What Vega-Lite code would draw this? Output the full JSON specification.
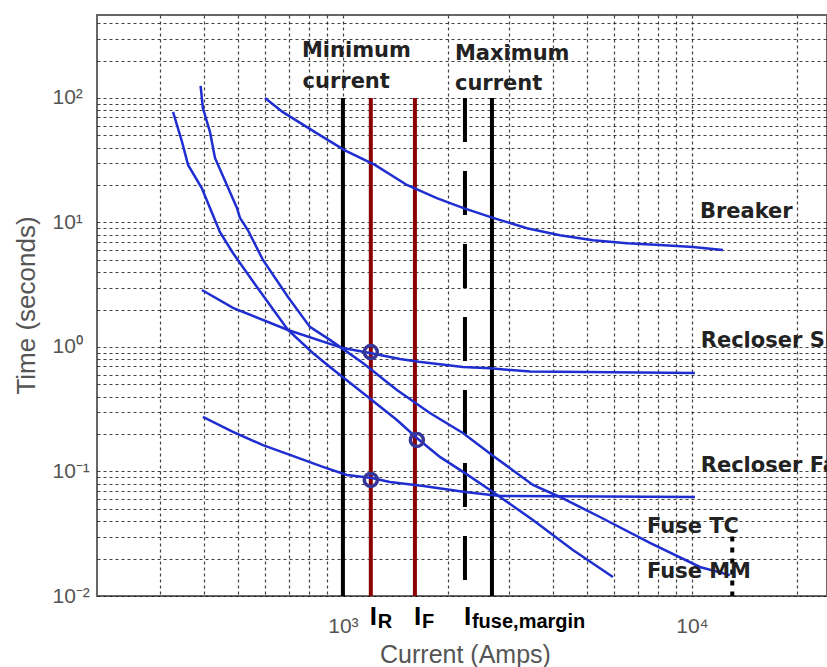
{
  "$schema": "https://vega.github.io/schema/vega-lite/v6.json",
  "width": 730,
  "height": 581,
  "autosize": {"type": "none"},
  "padding": {"left": 97, "top": 15, "right": 0, "bottom": 71},
  "background": "white",
  "config": {
    "view": {"stroke": "#666666", "strokeWidth": 2},
    "font": "Liberation Sans"
  },
  "datasets": {
    "curves": [
      {"curve": "Breaker", "current": 598, "time": 100},
      {"curve": "Breaker", "current": 673, "time": 77},
      {"curve": "Breaker", "current": 843, "time": 52},
      {"curve": "Breaker", "current": 1013, "time": 38},
      {"curve": "Breaker", "current": 1235, "time": 29},
      {"curve": "Breaker", "current": 1525, "time": 20},
      {"curve": "Breaker", "current": 1858, "time": 15.7},
      {"curve": "Breaker", "current": 2206, "time": 13.1},
      {"curve": "Breaker", "current": 2691, "time": 10.9},
      {"curve": "Breaker", "current": 3368, "time": 9.0},
      {"curve": "Breaker", "current": 4185, "time": 7.9},
      {"curve": "Breaker", "current": 5205, "time": 7.2},
      {"curve": "Breaker", "current": 6510, "time": 6.8},
      {"curve": "Breaker", "current": 8100, "time": 6.6},
      {"curve": "Breaker", "current": 10060, "time": 6.35},
      {"curve": "Breaker", "current": 12270, "time": 6.0},
      {"curve": "Fuse MM", "current": 326, "time": 77.2},
      {"curve": "Fuse MM", "current": 346, "time": 44.3},
      {"curve": "Fuse MM", "current": 360, "time": 29.0},
      {"curve": "Fuse MM", "current": 394, "time": 18.9},
      {"curve": "Fuse MM", "current": 424, "time": 11.5},
      {"curve": "Fuse MM", "current": 444, "time": 8.39},
      {"curve": "Fuse MM", "current": 484, "time": 5.69},
      {"curve": "Fuse MM", "current": 567, "time": 3.03},
      {"curve": "Fuse MM", "current": 696, "time": 1.37},
      {"curve": "Fuse MM", "current": 820, "time": 0.895},
      {"curve": "Fuse MM", "current": 918, "time": 0.691},
      {"curve": "Fuse MM", "current": 1141, "time": 0.427},
      {"curve": "Fuse MM", "current": 1428, "time": 0.259},
      {"curve": "Fuse MM", "current": 1629, "time": 0.186},
      {"curve": "Fuse MM", "current": 1896, "time": 0.131},
      {"curve": "Fuse MM", "current": 2237, "time": 0.097},
      {"curve": "Fuse MM", "current": 2691, "time": 0.0684},
      {"curve": "Fuse MM", "current": 3503, "time": 0.0408},
      {"curve": "Fuse MM", "current": 4560, "time": 0.0234},
      {"curve": "Fuse MM", "current": 5938, "time": 0.0142},
      {"curve": "Fuse TC", "current": 391, "time": 125},
      {"curve": "Fuse TC", "current": 397, "time": 83},
      {"curve": "Fuse TC", "current": 416, "time": 53.3},
      {"curve": "Fuse TC", "current": 430, "time": 33.0},
      {"curve": "Fuse TC", "current": 465, "time": 20.0},
      {"curve": "Fuse TC", "current": 497, "time": 13.1},
      {"curve": "Fuse TC", "current": 507, "time": 10.9},
      {"curve": "Fuse TC", "current": 534, "time": 8.7},
      {"curve": "Fuse TC", "current": 590, "time": 5.0},
      {"curve": "Fuse TC", "current": 696, "time": 2.52},
      {"curve": "Fuse TC", "current": 804, "time": 1.45},
      {"curve": "Fuse TC", "current": 918, "time": 1.14},
      {"curve": "Fuse TC", "current": 1141, "time": 0.744},
      {"curve": "Fuse TC", "current": 1428, "time": 0.451},
      {"curve": "Fuse TC", "current": 1775, "time": 0.295},
      {"curve": "Fuse TC", "current": 2207, "time": 0.204},
      {"curve": "Fuse TC", "current": 2720, "time": 0.131},
      {"curve": "Fuse TC", "current": 3503, "time": 0.078},
      {"curve": "Fuse TC", "current": 4185, "time": 0.0624},
      {"curve": "Fuse TC", "current": 5451, "time": 0.0431},
      {"curve": "Fuse TC", "current": 7580, "time": 0.0267},
      {"curve": "Fuse TC", "current": 10540, "time": 0.0171},
      {"curve": "Fuse TC", "current": 12850, "time": 0.0147},
      {"curve": "Recloser Slow", "current": 394.5, "time": 2.87},
      {"curve": "Recloser Slow", "current": 484, "time": 2.06},
      {"curve": "Recloser Slow", "current": 696, "time": 1.37},
      {"curve": "Recloser Slow", "current": 936, "time": 1.04},
      {"curve": "Recloser Slow", "current": 1000, "time": 0.98},
      {"curve": "Recloser Slow", "current": 1195, "time": 0.895},
      {"curve": "Recloser Slow", "current": 1457, "time": 0.8},
      {"curve": "Recloser Slow", "current": 1650, "time": 0.76},
      {"curve": "Recloser Slow", "current": 2207, "time": 0.69},
      {"curve": "Recloser Slow", "current": 2638, "time": 0.675},
      {"curve": "Recloser Slow", "current": 3435, "time": 0.635},
      {"curve": "Recloser Slow", "current": 10200, "time": 0.618},
      {"curve": "Recloser Fast", "current": 397, "time": 0.274},
      {"curve": "Recloser Fast", "current": 484, "time": 0.208},
      {"curve": "Recloser Fast", "current": 590, "time": 0.163},
      {"curve": "Recloser Fast", "current": 705, "time": 0.136},
      {"curve": "Recloser Fast", "current": 876, "time": 0.109},
      {"curve": "Recloser Fast", "current": 1027, "time": 0.0937},
      {"curve": "Recloser Fast", "current": 1211, "time": 0.0886},
      {"curve": "Recloser Fast", "current": 1363, "time": 0.0824},
      {"curve": "Recloser Fast", "current": 1700, "time": 0.0765},
      {"curve": "Recloser Fast", "current": 2240, "time": 0.0684},
      {"curve": "Recloser Fast", "current": 2818, "time": 0.0636},
      {"curve": "Recloser Fast", "current": 10200, "time": 0.0624}
    ],
    "vlines": [
      {"kind": "solid", "current": 1000, "time": 100, "time_end": 0.01},
      {"kind": "solid", "current": 2673, "time": 100, "time_end": 0.01},
      {"kind": "red", "current": 1202, "time": 100, "time_end": 0.01},
      {"kind": "red", "current": 1608, "time": 100, "time_end": 0.01},
      {"kind": "dashed", "current": 2237, "time": 100, "time_end": 0.01},
      {"kind": "dotted", "current": 13050, "time": 0.03, "time_end": 0.01}
    ],
    "circles": [
      {"current": 1202, "time": 0.91},
      {"current": 1629, "time": 0.179},
      {"current": 1202, "time": 0.0855}
    ],
    "labels": [
      {"label": "Minimum", "current": 763, "time": 213},
      {"label": "current", "current": 766, "time": 120.3},
      {"label": "Maximum", "current": 2094, "time": 202},
      {"label": "current", "current": 2094, "time": 115.9},
      {"label": "Breaker", "current": 10540, "time": 10.87},
      {"label": "Recloser Slow", "current": 10600, "time": 1.0},
      {"label": "Recloser Fast", "current": 10600, "time": 0.0988},
      {"label": "Fuse TC", "current": 7430, "time": 0.0321},
      {"label": "Fuse MM", "current": 7430, "time": 0.01396}
    ],
    "marks": [
      {"main": "I", "sub": "R", "current": 1202, "time": 0.01},
      {"main": "I", "sub": "F", "current": 1608, "time": 0.01},
      {"main": "I", "sub": "fuse,margin", "current": 2237, "time": 0.01}
    ]
  },
  "encoding": {
    "x": {
      "field": "current",
      "type": "quantitative",
      "scale": {"type": "log", "domain": [197.4, 24380], "nice": false, "zero": false},
      "axis": {
        "values": [300, 400, 500, 600, 700, 800, 900, 1000, 2000, 3000, 4000, 5000, 6000, 7000, 8000, 9000, 10000, 20000],
        "labelExpr": "datum.value == 1000 ? '10³' : datum.value == 10000 ? '10⁴' : ''",
        "grid": true,
        "gridColor": "#111111",
        "gridDash": [3, 3],
        "gridWidth": 1.2,
        "gridOpacity": 0.8,
        "ticks": false,
        "tickSize": 0,
        "domain": false,
        "labelOverlap": false,
        "labelFontSize": 21,
        "labelColor": "#555555",
        "labelBaseline": "alphabetic",
        "labelPadding": 36,
        "title": "Current (Amps)",
        "titleFontSize": 25,
        "titleFontWeight": "normal",
        "titleColor": "#555555",
        "titleX": 368,
        "titleY": 66,
        "titleBaseline": "alphabetic"
      }
    },
    "y": {
      "field": "time",
      "type": "quantitative",
      "scale": {"type": "log", "domain": [0.01, 464], "nice": false, "zero": false},
      "axis": {
        "values": [0.01, 0.02, 0.03, 0.04, 0.05, 0.06, 0.07, 0.08, 0.09, 0.1, 0.2, 0.3, 0.4, 0.5, 0.6, 0.7, 0.8, 0.9, 1, 2, 3, 4, 5, 6, 7, 8, 9, 10, 20, 30, 40, 50, 60, 70, 80, 90, 100, 200, 300, 400],
        "labelExpr": "datum.value == 100 ? '10²' : datum.value == 10 ? '10¹' : datum.value == 1 ? '10⁰' : datum.value == 0.1 ? '10⁻¹' : datum.value == 0.01 ? '10⁻²' : ''",
        "grid": true,
        "gridColor": "#111111",
        "gridDash": [3, 3],
        "gridWidth": 1.2,
        "gridOpacity": 0.8,
        "ticks": false,
        "tickSize": 0,
        "domain": false,
        "labelOverlap": false,
        "labelFontSize": 21,
        "labelColor": "#555555",
        "labelAlign": "left",
        "labelBaseline": "middle",
        "labelPadding": 45,
        "title": "Time (seconds)",
        "titleFontSize": 26,
        "titleFontWeight": "normal",
        "titleColor": "#555555",
        "titleX": -71,
        "titleY": 290,
        "titleAngle": -90,
        "titleBaseline": "middle"
      }
    }
  },
  "layer": [
    {
      "data": {"name": "vlines"},
      "transform": [{"filter": "datum.kind == 'solid'"}],
      "mark": {"type": "rule", "color": "#000000", "strokeWidth": 4},
      "encoding": {"y2": {"field": "time_end"}}
    },
    {
      "data": {"name": "vlines"},
      "transform": [{"filter": "datum.kind == 'red'"}],
      "mark": {"type": "rule", "color": "#8b0000", "strokeWidth": 4},
      "encoding": {"y2": {"field": "time_end"}}
    },
    {
      "data": {"name": "vlines"},
      "transform": [{"filter": "datum.kind == 'dashed'"}],
      "mark": {"type": "rule", "color": "#000000", "strokeWidth": 4, "strokeDash": [44, 29]},
      "encoding": {"y2": {"field": "time_end"}}
    },
    {
      "data": {"name": "vlines"},
      "transform": [{"filter": "datum.kind == 'dotted'"}],
      "mark": {"type": "rule", "color": "#000000", "strokeWidth": 4, "strokeDash": [5, 6]},
      "encoding": {"y2": {"field": "time_end"}}
    },
    {
      "data": {"name": "curves"},
      "mark": {"type": "line", "color": "#1f2ed0", "strokeWidth": 2.5},
      "encoding": {"detail": {"field": "curve", "type": "nominal"}}
    },
    {
      "data": {"name": "circles"},
      "mark": {"type": "point", "filled": false, "color": "#35359a", "size": 170, "strokeWidth": 3.5, "opacity": 1}
    },
    {
      "data": {"name": "labels"},
      "mark": {"type": "text", "font": "DejaVu Sans", "fontWeight": "bold", "fontSize": 21, "color": "#222222", "align": "left", "baseline": "alphabetic", "clip": true},
      "encoding": {"text": {"field": "label"}}
    },
    {
      "data": {"name": "marks"},
      "mark": {"type": "text", "font": "Liberation Sans", "fontWeight": "bold", "fontSize": 26, "color": "#000000", "align": "left", "baseline": "alphabetic", "dy": 29, "dx": -1},
      "encoding": {"text": {"field": "main"}}
    },
    {
      "data": {"name": "marks"},
      "mark": {"type": "text", "font": "Liberation Sans", "fontWeight": "bold", "fontSize": 20, "color": "#000000", "align": "left", "baseline": "alphabetic", "dy": 32, "dx": 7},
      "encoding": {"text": {"field": "sub"}}
    }
  ]
}
